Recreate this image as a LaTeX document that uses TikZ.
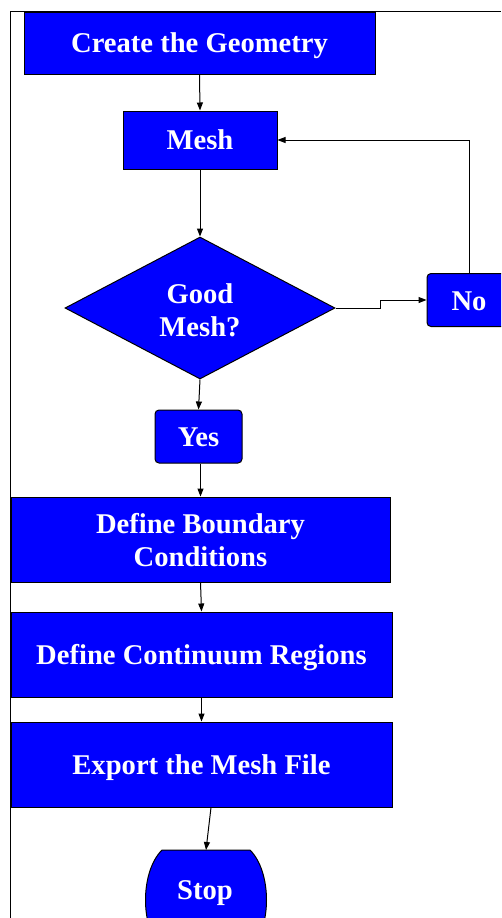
\documentclass[tikz,border=0pt]{standalone}
\usepackage{fontspec}
\setmainfont{Liberation Serif}
\usetikzlibrary{shapes.geometric,arrows.meta}
\definecolor{boxblue}{RGB}{0,0,255}
\begin{document}
\begin{tikzpicture}[x=1pt,y=-1pt,
  lbl/.style={text=white,font=\bfseries\fontsize{28.6}{33}\selectfont,align=center,inner sep=0pt,anchor=center,text height=19pt,text depth=0pt},
  box/.style={lbl,draw=black,line width=1pt,fill=boxblue},
  rbox/.style={box,rounded corners=4pt},
  arr/.style={line width=1pt,-{Triangle[length=8pt,width=6pt]}},
  ln/.style={line width=1pt}]
\useasboundingbox (0,0) rectangle (501,918);
\begin{scope}
\clip (0,0) rectangle (501,918);
% frame
\draw[ln] (10.5,918) -- (10.5,11.5) -- (501,11.5);
% nodes
\node[box,minimum width=351pt,minimum height=62pt] (geo) at (199.5,43) {Create the Geometry};
\node[box,minimum width=154pt,minimum height=58pt] (mesh) at (200,140) {Mesh};
\node[box,diamond,minimum width=270pt,minimum height=142pt,shape aspect=1.9,text height=56pt] (dia) at (200,308) {Good\\Mesh?};
\node[rbox,minimum width=84pt,minimum height=53pt,text height=21pt] (no) at (469,300) {No};
\node[rbox,minimum width=87pt,minimum height=53pt] (yes) at (198.5,436.5) {Yes};
\node[box,minimum width=379pt,minimum height=85pt,text height=53pt] (dbc) at (200.5,539.5) {Define Boundary\\Conditions};
\node[box,minimum width=381pt,minimum height=85pt] (dcr) at (201.5,654.5) {Define Continuum Regions};
\node[box,minimum width=381pt,minimum height=85pt] (exp) at (201.5,764.5) {Export the Mesh File};
% stop terminator
\coordinate (stoptop) at (206,850);
\draw[ln,fill=boxblue] (162,850) -- (250,850)
  .. controls (272,872) and (272,928) .. (250,950) -- (162,950)
  .. controls (140,928) and (140,872) .. (162,850) -- cycle;
\node[lbl] (stop) at (205,889.5) {Stop};
% connectors
\draw[arr] (geo.south) -- (mesh.north);
\draw[arr] (mesh.south) -- (dia.north);
\draw[arr] (dia.south) -- (yes.north);
\draw[arr] (yes.south -| dbc.north) -- (dbc.north);
\draw[arr] (dbc.south) -- (dcr.north);
\draw[arr] (dcr.south) -- (exp.north);
\draw[arr] ([xshift=9.5pt]exp.south) -- (stoptop);
\draw[arr] (dia.east) -- (380,308) -- (380,300) -- (no.west);
\draw[arr] (no.north) |- (mesh.east);
\end{scope}
\end{tikzpicture}
\end{document}
